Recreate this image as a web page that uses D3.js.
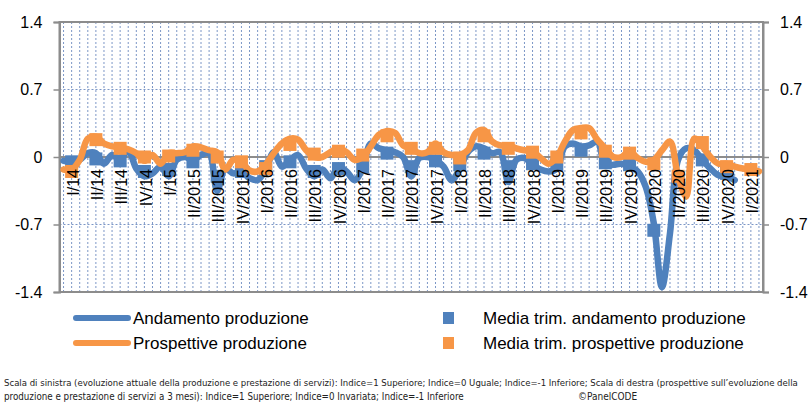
<!DOCTYPE html>
<html>
<head>
<meta charset="utf-8">
<script src="https://cdn.jsdelivr.net/npm/d3@7"></script>
<style>
  body { margin: 0; background: #fff; }
  svg { display: block; }
</style>
</head>
<body>
<div class="chart"></div>
<script>
// monthly categories, Jan 2014 .. Mar 2021
const months = d3.timeMonth.range(new Date(2014, 0, 1), new Date(2021, 3, 1));

const quarterLabels = ["I/14","II/14","III/14","IV/14","I/15","II/2015","III/2015","IV/2015",
  "I/2016","II/2016","III/2016","IV/2016","I/2017","II/2017","III/2017","IV/2017",
  "I/2018","II/2018","III/2018","IV/2018","I/2019","II/2019","III/2019","IV/2019",
  "I/2020","II/2020","III/2020","IV/2020","I/2021"];

// Andamento produzione (monthly, ends Dec 2020)
const andamento = [-0.04,-0.05,-0.03,0.04,0.04,-0.07,0.02,-0.03,0.07,-0.12,-0.2,-0.17,
  -0.1,-0.2,-0.03,0.0,-0.03,0.02,0.04,-0.35,-0.12,-0.17,-0.15,-0.22,
  -0.24,-0.13,0.05,-0.1,-0.03,0.02,-0.12,-0.2,-0.13,-0.22,-0.1,-0.15,
  -0.24,-0.12,0.14,0.09,0.07,0.05,0.0,-0.2,-0.01,0.0,-0.03,-0.1,
  -0.24,-0.12,0.05,0.11,0.09,0.04,0.05,-0.26,-0.03,-0.01,-0.08,-0.13,
  -0.15,-0.12,0.11,0.14,0.11,0.12,0.16,-0.08,-0.08,-0.07,-0.1,-0.15,
  -0.31,-0.69,-1.35,-0.79,-0.03,0.09,0.07,-0.03,-0.12,-0.19,-0.2,-0.24];

// Prospettive produzione (monthly, ends Mar 2021)
const prospettive = [-0.13,-0.13,-0.03,0.19,0.21,0.14,0.11,0.1,0.08,0.04,-0.04,0.02,
  -0.07,0.04,0.04,0.05,0.11,0.1,0.07,0.05,-0.13,-0.03,-0.05,-0.14,
  -0.15,-0.08,0.04,0.14,0.19,0.18,0.07,0.0,0.0,0.05,0.09,0.05,
  -0.03,0.0,0.11,0.23,0.27,0.25,0.12,0.09,0.04,0.05,0.14,0.05,
  0.02,0.02,0.07,0.25,0.28,0.16,0.12,0.12,0.09,0.07,0.06,-0.01,
  -0.07,0.0,0.16,0.28,0.3,0.3,0.18,0.09,0.0,0.0,0.06,-0.01,
  -0.05,-0.03,0.07,0.16,-0.2,-0.41,0.19,0.11,0.0,-0.07,-0.07,-0.1,
  -0.12,-0.13,-0.15];

// quarterly averages (one marker per quarter, on the middle month)
const mediaAndamento = [-0.05,-0.02,-0.04,-0.15,-0.13,-0.05,-0.2,-0.15,
  -0.1,-0.05,-0.15,-0.12,-0.1,0.04,-0.1,-0.04,
  -0.08,0.04,-0.1,-0.07,-0.08,0.07,-0.06,-0.08,
  -0.76,-0.24,-0.03,-0.17];
const mediaProspettive = [-0.15,0.18,0.09,0.0,0.01,0.07,0.0,-0.05,
  -0.12,0.13,0.03,0.06,0.02,0.22,0.09,0.09,
  -0.01,0.22,0.09,0.05,0.0,0.25,0.06,0.04,
  -0.07,-0.2,0.15,-0.1,-0.13];

const yTicks = [-1.4, -0.7, 0, 0.7, 1.4];

const BLUE = "#4f81bd", ORANGE = "#f79646", GRID = "#5a7cb8", AXIS = "#8c8c8c";

const width = 812, height = 402;
const plot = {left: 59.5, right: 763, top: 22, bottom: 292};

const svg = d3.select(".chart").append("svg")
  .attr("width", width).attr("height", height)
  .style("font-family", "'Liberation Sans', Arial, sans-serif");

const x = d3.scaleBand().domain(months).range([plot.left, plot.right]).padding(0);
const y = d3.scaleLinear().domain([-1.4, 1.4]).range([plot.bottom, plot.top]);
const cx = d => x(d) + x.bandwidth() / 2;

// vertical dotted gridlines, one per month
svg.append("g").selectAll("line").data(months).join("line")
  .attr("x1", d => cx(d)).attr("x2", d => cx(d))
  .attr("y1", plot.top).attr("y2", plot.bottom)
  .attr("stroke", GRID).attr("stroke-width", 0.8).attr("stroke-dasharray", "2,2");

// horizontal gridlines
svg.append("g").selectAll("line").data([-0.7, 0.7]).join("line")
  .attr("x1", plot.left).attr("x2", plot.right)
  .attr("y1", d => y(d)).attr("y2", d => y(d))
  .attr("stroke", GRID).attr("stroke-width", 0.8).attr("stroke-dasharray", "2,2");

// plot border
svg.append("rect")
  .attr("x", plot.left).attr("y", plot.top)
  .attr("width", plot.right - plot.left).attr("height", plot.bottom - plot.top)
  .attr("fill", "none").attr("stroke", AXIS).attr("stroke-width", 2);

// axes left and right
const fmt = d => String(d);
const leftAxis = svg.append("g").attr("transform", `translate(${plot.left},0)`)
  .call(d3.axisLeft(y).tickValues(yTicks).tickFormat(fmt).tickSize(6).tickPadding(11));
const rightAxis = svg.append("g").attr("transform", `translate(${plot.right},0)`)
  .call(d3.axisRight(y).tickValues(yTicks).tickFormat(fmt).tickSize(6).tickPadding(11));
[leftAxis, rightAxis].forEach(a => {
  a.select(".domain").attr("stroke", AXIS).attr("stroke-width", 2);
  a.selectAll(".tick line").attr("stroke", AXIS).attr("stroke-width", 1.5);
  a.selectAll(".tick text").attr("fill", "#000").style("font-size", "16px")
    .style("font-family", "'Liberation Sans', Arial, sans-serif");
});

// zero line (category axis)
svg.append("line")
  .attr("x1", plot.left).attr("x2", plot.right)
  .attr("y1", y(0)).attr("y2", y(0))
  .attr("stroke", AXIS).attr("stroke-width", 2);

const line = d3.line()
  .x((d, i) => cx(months[i]))
  .y(d => y(d))
  .curve(d3.curveCatmullRom.alpha(0.5));

const sq = 13;

// blue series
svg.append("path").datum(andamento)
  .attr("d", line).attr("fill", "none")
  .attr("stroke", BLUE).attr("stroke-width", 6.5).attr("stroke-linejoin", "round").attr("stroke-linecap", "round");
svg.append("g").selectAll("rect").data(mediaAndamento).join("rect")
  .attr("x", (d, i) => cx(months[i * 3 + 1]) - sq / 2)
  .attr("y", d => y(d) - sq / 2)
  .attr("width", sq).attr("height", sq).attr("fill", BLUE);

// orange series
svg.append("path").datum(prospettive)
  .attr("d", line).attr("fill", "none")
  .attr("stroke", ORANGE).attr("stroke-width", 6.5).attr("stroke-linejoin", "round").attr("stroke-linecap", "round");
svg.append("g").selectAll("rect").data(mediaProspettive).join("rect")
  .attr("x", (d, i) => cx(months[i * 3 + 1]) - sq / 2)
  .attr("y", d => y(d) - sq / 2)
  .attr("width", sq).attr("height", sq).attr("fill", ORANGE);

// quarter labels on the middle month of each quarter, drawn over the series
svg.append("g").selectAll("text").data(quarterLabels).join("text")
  .attr("transform", (d, i) => `translate(${cx(months[i * 3 + 1]) + 1.5},${y(0) + 12}) rotate(-90)`)
  .attr("text-anchor", "end").attr("dy", "0.35em")
  .style("font-size", "16px").attr("fill", "#000")
  .text(d => d);

// legend
const legendLines = [
  {name: "Andamento produzione", color: BLUE, y: 318},
  {name: "Prospettive produzione", color: ORANGE, y: 343}
];
const legendSquares = [
  {name: "Media trim. andamento produzione", color: BLUE, y: 318},
  {name: "Media trim. prospettive produzione", color: ORANGE, y: 343}
];
const lg = svg.append("g");
legendLines.forEach(l => {
  lg.append("line").attr("x1", 76).attr("x2", 128).attr("y1", l.y).attr("y2", l.y)
    .attr("stroke", l.color).attr("stroke-width", 6).attr("stroke-linecap", "round");
  lg.append("text").attr("x", 133).attr("y", l.y).attr("dy", "0.35em")
    .style("font-size", "17px").text(l.name);
});
legendSquares.forEach(l => {
  lg.append("rect").attr("x", 443).attr("y", l.y - 6).attr("width", 11).attr("height", 12)
    .attr("fill", l.color);
  lg.append("text").attr("x", 483).attr("y", l.y).attr("dy", "0.35em")
    .style("font-size", "17px").text(l.name);
});

// footnote, font size fitted so each line spans its width in the reference
const note = svg.append("g")
  .style("font-family", "'Liberation Sans Narrow', 'DejaVu Sans Condensed', sans-serif")
  .attr("fill", "#222");
function fitText(sel, target) {
  sel.style("font-size", "10px");
  const w = sel.node().getComputedTextLength();
  sel.style("font-size", (10 * target / w).toFixed(2) + "px");
}
const n1 = note.append("text").attr("x", 4).attr("y", 386)
  .text("Scala di sinistra (evoluzione attuale della produzione e prestazione di servizi): Indice=1 Superiore; Indice=0 Uguale; Indice=-1 Inferiore; Scala di destra (prospettive sull\u2019evoluzione della");
fitText(n1, 795);
const n2 = note.append("text").attr("x", 4).attr("y", 400)
  .text("produzione e prestazione di servizi a 3 mesi): Indice=1 Superiore; Indice=0 Invariata; Indice=-1 Inferiore");
fitText(n2, 460);
note.append("text").attr("x", 578).attr("y", 400).style("font-size", "10px").text("\u00a9PanelCODE");
</script>
</body>
</html>
